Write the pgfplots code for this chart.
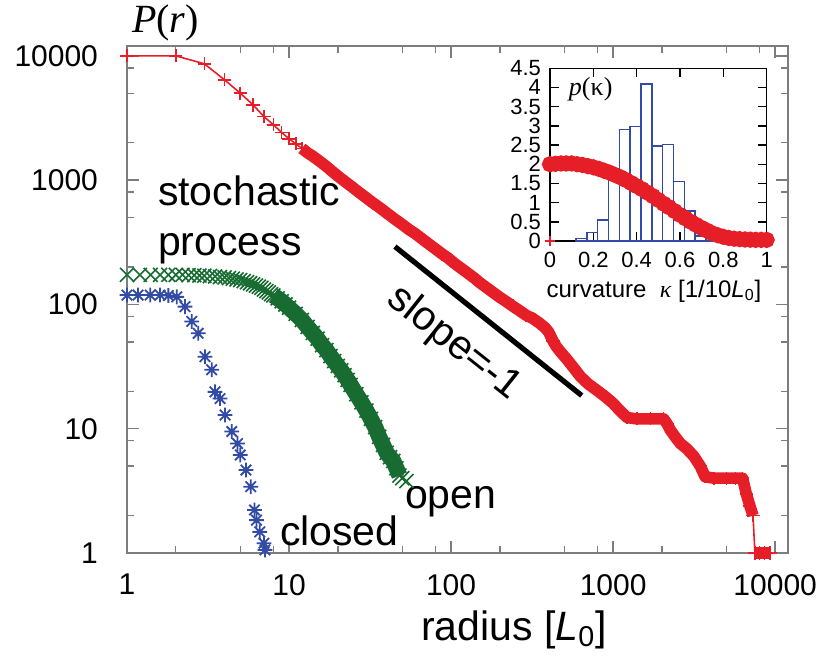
\documentclass[border=0pt]{standalone}
\usepackage{fontspec}
\setmainfont{Liberation Sans}
\newfontfamily\serif{Liberation Serif}
\usepackage{pgfplots}
\pgfplotsset{compat=1.18}

\definecolor{pred}{RGB}{230,30,40}
\definecolor{pgreen}{RGB}{24,108,50}
\definecolor{pblue}{RGB}{50,75,165}
\definecolor{framegray}{RGB}{125,125,125}

\pgfdeclareplotmark{gcross}{%
  \pgfpathmoveto{\pgfqpoint{-\pgfplotmarksize}{-\pgfplotmarksize}}%
  \pgfpathlineto{\pgfqpoint{\pgfplotmarksize}{\pgfplotmarksize}}%
  \pgfpathmoveto{\pgfqpoint{-\pgfplotmarksize}{\pgfplotmarksize}}%
  \pgfpathlineto{\pgfqpoint{\pgfplotmarksize}{-\pgfplotmarksize}}%
  \pgfusepathqstroke}
\pgfdeclareplotmark{gstar}{%
  \pgfpathmoveto{\pgfqpoint{-\pgfplotmarksize}{0pt}}%
  \pgfpathlineto{\pgfqpoint{\pgfplotmarksize}{0pt}}%
  \pgfpathmoveto{\pgfqpoint{0pt}{-\pgfplotmarksize}}%
  \pgfpathlineto{\pgfqpoint{0pt}{\pgfplotmarksize}}%
  \pgfpathmoveto{\pgfqpoint{-.707\pgfplotmarksize}{-.707\pgfplotmarksize}}%
  \pgfpathlineto{\pgfqpoint{.707\pgfplotmarksize}{.707\pgfplotmarksize}}%
  \pgfpathmoveto{\pgfqpoint{-.707\pgfplotmarksize}{.707\pgfplotmarksize}}%
  \pgfpathlineto{\pgfqpoint{.707\pgfplotmarksize}{-.707\pgfplotmarksize}}%
  \pgfusepathqstroke}

\begin{document}
\begin{tikzpicture}
\begin{axis}[
  name=main,
  xmode=log, ymode=log,
  scale only axis, width=330.5pt, height=253.5pt,
  xmin=1, xmax=12000, ymin=1, ymax=12000,
  axis line style={framegray, line width=0.7pt},
  tick style={framegray, line width=0.7pt},
  major tick length=6pt, minor tick length=3.5pt,
  tick align=inside,
  xtick={1,10,100,1000,10000}, xticklabels={1,10,100,1000,10000},
  ytick={1,10,100,1000,10000}, yticklabels={1,10,100,1000,10000},
  minor xtick={2,5,8,20,50,80,200,500,800,2000,5000,8000},
  minor ytick={2,5,8,20,50,80,200,500,800,2000,5000,8000},
  tick label style={font=\fontsize{15}{16}\selectfont, black},
  xticklabel style={yshift=-7pt},
  yticklabel style={xshift=-11pt},
  clip=false,
  xlabel={radius [\textit{L}\textsubscript{0}]},
  every axis x label/.style={at={(axis description cs:0.5855,0)}, anchor=base, yshift=-43.5pt, font=\fontsize{20.5}{24}\selectfont},
]
% slope line
\addplot[black, line width=2.6pt, line cap=butt] coordinates {(45,292) (640,18.5)};

% blue: closed
\addplot[pblue, only marks, mark=gstar, mark size=3.7pt, mark options={line width=0.9pt}] coordinates {
(1,119)(1.17,119)(1.39,119)(1.6,119)(1.8,118)(2.03,115)(2.28,96)(2.51,73)(2.75,58.6)
(3.03,38)(3.33,29.8)(3.49,19.8)(3.75,17.5)(4.03,12.9)(4.43,9.5)(4.81,7.6)(5.0,6.15)
(5.42,4.65)(5.8,3.42)(6.12,2.22)(6.3,1.84)(6.6,1.48)(7.0,1.2)(7.1,1.06)};

% green: open (band)
\addplot[pgreen, line width=8pt, line join=round] coordinates {
(8,118)(8.5,112)(9,106)(9.5,100)(10,94)(11,84)(12,75)(13,66)(14,59)(15,53)(16,47)(17,43)(18,38.5)(19,35)
(20,32)(21,29.5)(22,27)(23,24.7)(24,22.5)(26,19)(28,16.3)(30,14)(32,12)(34,10.3)(36,8.6)
(38,7.4)(40,6.4)(42,5.9)(44,5.5)(46,4.8)(48,4.2)};
\addplot[pgreen, only marks, mark=gcross, mark size=3.5pt, mark options={line width=0.8pt}] coordinates {
(1,173)(1.2,173)(1.4,173)(1.6,173)(1.8,173)(2,173)(2.2,173)(2.4,172)(2.6,172)(2.8,171)
(3,170)(3.25,169)(3.5,168)(3.75,166)(4,165)(4.25,163)(4.5,161)(4.75,159)(5,157)(5.25,154)(5.5,151)(5.75,148)
(6,145)(6.25,142)(6.5,139)(6.75,136)(7,132)(7.25,128)(7.5,125)(7.75,121)(8,118)(8.5,112)(9,106)(9.5,100)(10,94)(11,84)(12,75)
(13,66)(14,59)(15,53)(16,47)(17,43)(18,38.5)(19,35)(20,32)(21,29.5)(22,27)(23,24.7)
(24,22.5)(26,19)(28,16.3)(30,14)(32,12)(34,10.3)(36,8.6)(38,7.4)(40,6.4)(42,5.9)(44,5.5)
(46,4.8)(48,4.2)(50,4.0)(53,3.8)};

% red: stochastic process
\addplot[pred, line width=5.8pt, line join=round] coordinates {
(12,1800)(13,1660)(14,1560)(15,1460)(16,1370)(17,1290)(18,1210)(19,1140)(20,1080)
(22,980)(24,900)(26,830)(28,770)(30,720)(33,655)(36,605)(40,545)(45,485)(50,440)(55,400)
(60,372)(66,338)(73,306)(80,280)(88,255)(95,238)(105,214)(115,196)(125,181)(140,162)
(150,150)(165,137)(180,126)(200,114)(220,105)(240,97)(265,89)(290,82)(320,77)(350,71)
(380,65)(400,60)(425,51)(445,46)(470,42)(520,36)(570,31)(625,26.5)(700,23)(790,20.5)
(900,18)(1000,16)(1100,14)(1220,12.3)(1400,12)(1700,12)(2050,12)(2150,11)(2250,9.8)
(2400,8.7)(2600,7.6)(2850,6.9)(3150,6)(3450,5)(3700,4.1)(4200,4)(5000,4)(5700,4)(6300,4)
(6630,3)(6980,2.4)(7300,2)};
\addplot[pred, line width=6pt] coordinates {(7500,1)(9300,1)};
\addplot[pred, line width=0.8pt, mark=+, mark size=3.3pt, mark options={line width=0.8pt}] coordinates {
(1,10000)(2,10000)(3,8630)(4,6410)(5,5010)(6,4030)(7,3245)(8,2790)(9,2420)(10,2150)
(11,1960)(12,1800)(13,1660)(14,1560)(15,1460)(16,1370)(17,1290)(18,1210)(19,1140)(20,1080)
(22,980)(24,900)(26,830)(28,770)(30,720)(33,655)(36,605)(40,545)(45,485)(50,440)(55,400)
(60,372)(66,338)(73,306)(80,280)(88,255)(95,238)(105,214)(115,196)(125,181)(140,162)
(150,150)(165,137)(180,126)(200,114)(220,105)(240,97)(265,89)(290,82)(320,77)(350,71)
(380,65)(400,60)(425,51)(445,46)(470,42)(520,36)(570,31)(625,26.5)(700,23)(790,20.5)
(900,18)(1000,16)(1100,14)(1220,12.3)(1400,12)(1700,12)(2050,12)(2150,11)(2250,9.8)
(2400,8.7)(2600,7.6)(2850,6.9)(3150,6)(3450,5)(3700,4.1)(4200,4)(5000,4)(5700,4)(6300,4)
(6630,3)(6980,2.4)(7300,2)(7500,1)(8000,1)(8600,1)(9300,1)};

% annotations
\node[anchor=base west, font=\serif\fontsize{20}{20}\selectfont] at (rel axis cs:-0.003,1.0276) {\textit{P}(\textit{r})};
\node[anchor=base west, font=\fontsize{20.5}{24}\selectfont] at (rel axis cs:0.0363,0.6864) {stochastic};
\node[anchor=base west, font=\fontsize{20.5}{24}\selectfont] at (rel axis cs:0.0363,0.5878) {process};
\node[anchor=base west, font=\fontsize{20.5}{24}\selectfont] at (rel axis cs:0.41,0.0888) {open};
\node[anchor=base west, font=\fontsize{20.5}{24}\selectfont] at (rel axis cs:0.2209,0.0158) {closed};
\node[rotate=-38.5, anchor=center, font=\fontsize{20.5}{24}\selectfont] at (axis cs:104,48.5) {slope=-1};
\end{axis}

\begin{axis}[
  at={(main.south west)}, anchor=south west, xshift=211.5pt, yshift=156pt,
  scale only axis, width=108.3pt, height=86.4pt,
  xmin=0, xmax=1, ymin=0, ymax=4.5,
  xtick={0,0.2,0.4,0.6,0.8,1},
  ytick={0,0.5,1,1.5,2,2.5,3,3.5,4,4.5},
  axis line style={black, line width=0.7pt},
  tick style={black, line width=0.7pt},
  major tick length=4.5pt, tick align=inside,
  tick label style={font=\fontsize{11}{11}\selectfont, /pgf/number format/assume math mode=true},
  xticklabel style={yshift=-2pt},
  yticklabel style={xshift=-1pt},
  clip=false,
  xlabel={curvature\ \ {\serif\itshape κ} [1/10\textit{L}\textsubscript{0}]},
  every axis x label/.style={at={(axis description cs:0.48,0)}, anchor=base, yshift=-28pt, font=\fontsize{12}{12}\selectfont},
]
\addplot[ybar, bar width=5.415pt, bar shift=0pt, draw=pblue, fill=none, line width=0.7pt] coordinates {
(0.145,0.06)(0.195,0.22)(0.245,0.55)(0.295,1.57)(0.345,2.9)(0.395,2.98)(0.445,4.09)(0.495,2.47)
(0.545,2.52)(0.595,1.55)(0.645,0.78)(0.695,0.13)(0.745,0.02)};
\addplot[pred, line width=3.4pt, mark=*, mark size=2.3pt, mark options={draw=none, fill=pred}] coordinates {
(0,2.0)(0.025,2.01)(0.05,2.02)(0.075,2.02)(0.1,2.02)(0.125,2.0)(0.15,1.98)(0.175,1.95)
(0.2,1.92)(0.225,1.88)(0.25,1.83)(0.275,1.78)(0.3,1.72)(0.325,1.66)(0.35,1.59)(0.375,1.51)
(0.4,1.43)(0.425,1.35)(0.45,1.26)(0.475,1.17)(0.5,1.07)(0.525,0.97)(0.55,0.88)(0.575,0.78)
(0.6,0.68)(0.625,0.59)(0.65,0.5)(0.675,0.42)(0.7,0.34)(0.725,0.27)(0.75,0.2)(0.775,0.15)
(0.8,0.11)(0.825,0.08)(0.85,0.06)(0.875,0.05)(0.9,0.04)(0.925,0.035)(0.95,0.03)(0.975,0.03)(1.0,0.03)};
\addplot[pred, only marks, mark=+, mark size=2.5pt, mark options={line width=1pt}] coordinates {(0,0)};
\node[anchor=base west, font=\serif\fontsize{13}{13}\selectfont] at (axis description cs:0.055,0.84) {\textit{p}(κ)};
\end{axis}

\pgfresetboundingbox
\path[use as bounding box] ([xshift=-63.5pt,yshift=-55.5pt]main.south west) rectangle ([xshift=16.5pt,yshift=23pt]main.north east);
\end{tikzpicture}
\end{document}
